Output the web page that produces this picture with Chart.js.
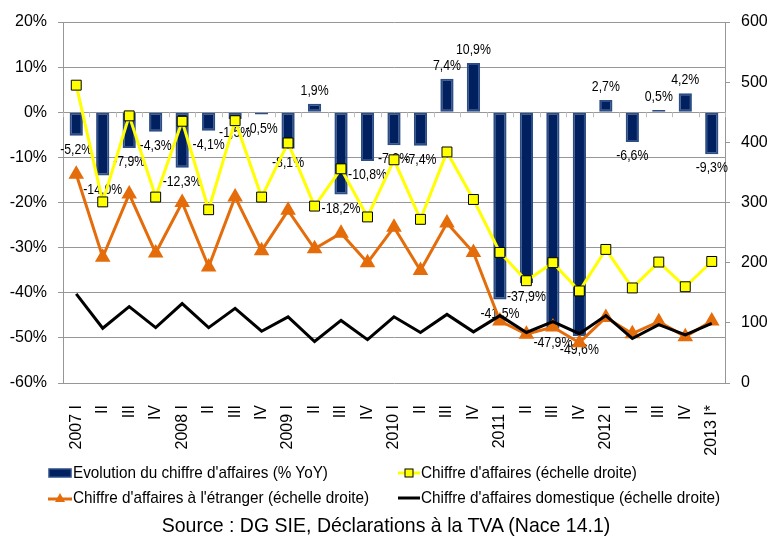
<!DOCTYPE html>
<html>
<head>
<meta charset="utf-8">
<script src="https://cdn.jsdelivr.net/npm/chart.js@4"></script>
<style>
  html, body { margin: 0; padding: 0; background: #fff; }
  #wrap { position: relative; width: 769px; height: 538px; font-family: 'Liberation Sans', Arial, sans-serif; color: #000; }
  #chart { position: absolute; left: 0; top: 0; }
  .leg { position: absolute; font-size: 17px; line-height: 20px; white-space: nowrap; display: flex; align-items: center; }
  .leg span { display: inline-block; transform: scaleX(0.9); transform-origin: left center; }
  #source { position: absolute; left: 0; top: 512px; width: 772px; text-align: center; font-size: 21px; line-height: 26px; transform: scaleX(0.93); transform-origin: 386px 0; }
</style>
</head>
<body>
<div id="wrap">
  <canvas id="chart" width="769" height="538"></canvas>
  <div class="leg" style="left:48px;top:463px">
    <svg width="25" height="14"><rect x="1" y="3" width="22" height="8" fill="#002060" stroke="#2C4D86" stroke-width="1.5"/></svg><span>Evolution du chiffre d'affaires (% YoY)</span>
  </div>
  <div class="leg" style="left:398px;top:463px">
    <svg width="23" height="14"><line x1="0" y1="7" x2="22" y2="7" stroke="#FFFF00" stroke-width="3"/><rect x="7" y="3" width="8" height="8" fill="#FFFF00" stroke="#000" stroke-width="1"/></svg><span>Chiffre d'affaires (échelle droite)</span>
  </div>
  <div class="leg" style="left:48px;top:488px">
    <svg width="25" height="14"><line x1="0" y1="8" x2="24" y2="8" stroke="#E46C0A" stroke-width="3"/><polygon points="12,2 17,11 7,11" fill="#E46C0A"/></svg><span>Chiffre d'affaires à l'étranger (échelle droite)</span>
  </div>
  <div class="leg" style="left:398px;top:488px">
    <svg width="23" height="14"><line x1="0" y1="7" x2="22" y2="7" stroke="#000" stroke-width="3"/></svg><span>Chiffre d'affaires domestique (échelle droite)</span>
  </div>
  <div id="source">Source : DG SIE, Déclarations à la TVA (Nace 14.1)</div>
</div>
<script>
// -- Data --
const quarters = ['2007 I', 'II', 'III', 'IV', '2008 I', 'II', 'III', 'IV', '2009 I', 'II', 'III', 'IV',
  '2010 I', 'II', 'III', 'IV', '2011 I', 'II', 'III', 'IV', '2012 I', 'II', 'III', 'IV', '2013 I*'];
const evolution = [-5.2, -14.0, -7.9, -4.3, -12.3, -4.1, -1.5, -0.5, -8.1, 1.9, -18.2, -10.8,
  -7.3, -7.4, 7.4, 10.9, -41.5, -37.9, -47.9, -49.6, 2.7, -6.6, 0.5, 4.2, -9.3];
const chiffre = [495, 301, 444, 309, 435, 288, 436, 309, 399, 294, 356, 276,
  371, 272, 384, 305, 217, 170, 200, 153, 222, 158, 201, 160, 202];
const etranger = [347, 209, 314, 216, 300, 193, 309, 220, 287, 223, 249, 200,
  259, 187, 266, 217, 103, 81, 93, 67, 109, 82, 102, 77, 103];
const domestique = [148, 91, 127, 92, 132, 92, 124, 86, 110, 69, 104, 72,
  110, 84, 114, 85, 112, 84, 102, 82, 112, 74, 97, 80, 99];

const FONT = "'Liberation Sans', Arial, sans-serif";
const GRID = '#979797';

// labels des barres (% YoY), dessinés juste après les barres, un peu resserrés
const barLabels = {
  id: 'barLabels',
  afterDatasetDraw(chart, args) {
    if (args.index !== 0) return;
    const ctx = chart.ctx;
    ctx.save();
    ctx.font = '15px ' + FONT;
    ctx.fillStyle = '#000';
    ctx.textAlign = 'center';
    ctx.textBaseline = 'middle';
    args.meta.data.forEach((bar, i) => {
      const v = evolution[i];
      const y = v >= 0 ? bar.y - 13 : bar.y + 14;
      ctx.save();
      ctx.translate(bar.x, y);
      ctx.scale(0.82, 1);
      ctx.fillText(v.toFixed(1).replace('.', ',') + '%', 0, 0);
      ctx.restore();
    });
    ctx.restore();
  }
};

// petites graduations sous la ligne du zéro
const zeroTicks = {
  id: 'zeroTicks',
  beforeDatasetsDraw(chart) {
    const ctx = chart.ctx, x = chart.scales.x, y = chart.scales.y;
    const y0 = y.getPixelForValue(0);
    ctx.save();
    ctx.strokeStyle = '#BFBFBF';
    ctx.lineWidth = 1;
    ctx.beginPath();
    for (let i = 0; i <= quarters.length; i++) {
      const px = Math.round(x.getPixelForValue(i - 0.5)) + 0.5;
      ctx.moveTo(px, y0);
      ctx.lineTo(px, y0 + 5);
    }
    ctx.stroke();
    ctx.restore();
  }
};

const ctx = document.getElementById('chart').getContext('2d');
new Chart(ctx, {
  data: {
    labels: quarters,
    datasets: [{
      type: 'bar',
      label: "Evolution du chiffre d'affaires (% YoY)",
      data: evolution,
      yAxisID: 'y',
      backgroundColor: '#002060',
      borderColor: '#2C4D86',
      borderWidth: 2,
      borderSkipped: false,
      barPercentage: 0.5,
      categoryPercentage: 1,
      order: 4
    }, {
      type: 'line',
      label: "Chiffre d'affaires (échelle droite)",
      data: chiffre,
      yAxisID: 'y1',
      borderColor: '#FFFF00',
      borderWidth: 3,
      pointStyle: 'rect',
      pointRadius: 7,
      pointBackgroundColor: '#FFFF00',
      pointBorderColor: '#000',
      pointBorderWidth: 1,
      order: 3
    }, {
      type: 'line',
      label: "Chiffre d'affaires à l'étranger (échelle droite)",
      data: etranger,
      yAxisID: 'y1',
      borderColor: '#E46C0A',
      borderWidth: 3,
      pointStyle: 'triangle',
      pointRadius: 6,
      pointBackgroundColor: '#E46C0A',
      pointBorderColor: '#E46C0A',
      order: 2
    }, {
      type: 'line',
      label: "Chiffre d'affaires domestique (échelle droite)",
      data: domestique,
      yAxisID: 'y1',
      borderColor: '#000',
      borderWidth: 3,
      pointRadius: 0,
      order: 1
    }]
  },
  options: {
    responsive: false,
    animation: false,
    layout: { padding: { top: 22, left: 0, right: 0, bottom: 0 } },
    plugins: { legend: { display: false }, tooltip: { enabled: false } },
    scales: {
      x: {
        grid: { display: false },
        border: { display: false },
        ticks: { autoSkip: false, minRotation: 90, maxRotation: 90, padding: 14, color: '#000', font: { family: FONT, size: 16 } },
        afterFit(s) { s.height = 155; }
      },
      y: {
        position: 'left',
        min: -60, max: 20,
        ticks: { stepSize: 10, padding: 11, color: '#000', font: { family: FONT, size: 16 }, callback: v => v + '%' },
        grid: { color: GRID, tickLength: 5 },
        border: { color: GRID },
        afterFit(s) { s.width = 63; }
      },
      y1: {
        position: 'right',
        min: 0, max: 600,
        ticks: { stepSize: 100, padding: 11, color: '#000', font: { family: FONT, size: 16 } },
        grid: { drawOnChartArea: false, color: GRID, tickLength: 5 },
        border: { color: GRID },
        afterFit(s) { s.width = 44; }
      }
    }
  },
  plugins: [barLabels, zeroTicks]
});
</script>
</body>
</html>
